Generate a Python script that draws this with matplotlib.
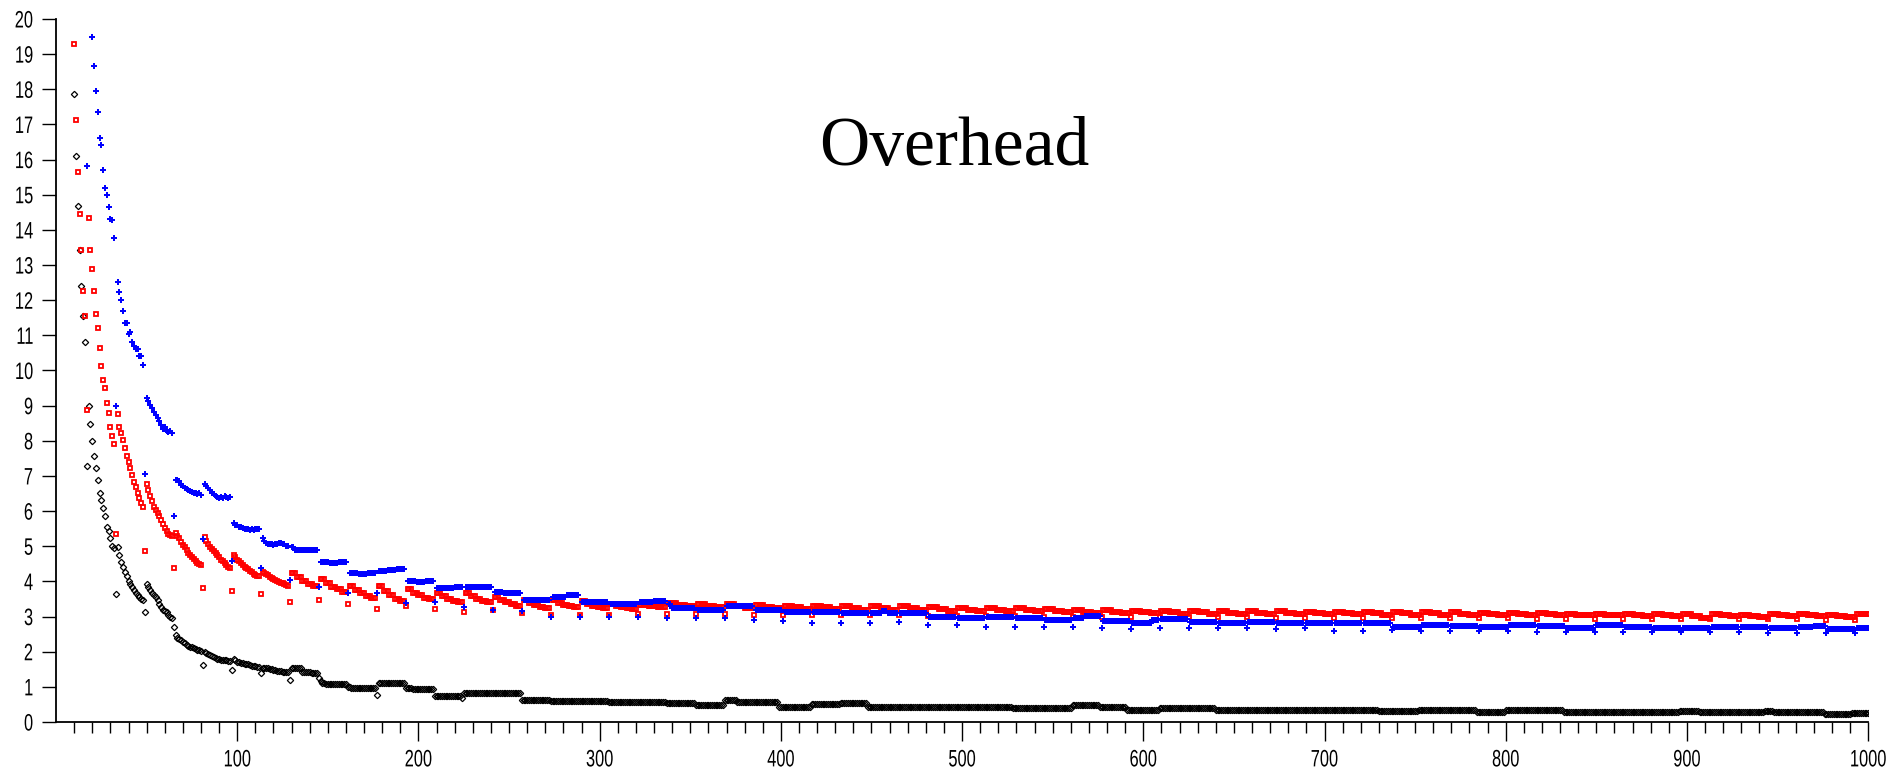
import numpy as np
import matplotlib
matplotlib.use("Agg")
import matplotlib.pyplot as plt
from matplotlib import patheffects
from matplotlib.ticker import FixedLocator
from matplotlib.transforms import Affine2D

nan = float("nan")

# values, one per integer x in the early part,
# then (value, count) runs where the series turns flat
red_x0 = 10
red_early = [
    19.30, 17.13, 15.65, 14.45, 13.43, 12.27, 11.55,
    8.88,
    14.33, 13.43, 12.90, 12.27, 11.60, 11.20, 10.63, 10.13, 9.73, 9.49, 9.08, 8.80, 8.40, 8.14, 7.91,
    5.34,
    8.75, 8.40, 8.21, 8.02, 7.79, 7.57, 7.41, 7.22, 7.03, 6.82, 6.69, 6.51, 6.36, 6.24, 6.13,
    4.87,
    6.77, 6.60, 6.42, 6.28, 6.13, 6.02, 5.94, 5.85, 5.74, 5.62, 5.52, 5.43, 5.36, 5.31, 5.28,
    4.37,
    5.38, 5.30, 5.22, 5.12, 5.04, 4.98, 4.90, 4.82, 4.76, 4.70, 4.64, 4.57, 4.52, 4.49, 4.47,
    3.80,
    5.25, 5.15, 5.05, 4.98, 4.92, 4.86, 4.80, 4.74, 4.68, 4.62, 4.57, 4.52, 4.47, 4.42, 4.38,
    3.74,
    4.75, 4.68, 4.62, 4.57, 4.52, 4.47, 4.42, 4.38, 4.34, 4.30, 4.26, 4.22, 4.19, 4.16, 4.14,
    3.63,
    4.28, 4.24, 4.20, 4.17, 4.13, 4.10, 4.07, 4.04, 4.01, 3.98, 3.96, 3.94, 3.92, 3.90, 3.88,
]
red_runs = [
    (3.42, 1), (4.24, 3), (4.12, 3), (4.01, 3), (3.93, 3), (3.87, 3),
    (3.47, 1), (4.07, 3), (3.95, 3), (3.85, 3), (3.77, 3), (3.71, 3),
    (3.36, 1), (3.87, 3), (3.76, 3), (3.66, 3), (3.58, 3), (3.53, 3),
    (3.21, 1), (3.86, 3), (3.72, 3), (3.60, 3), (3.50, 3), (3.43, 3),
    (3.30, 1), (3.78, 3), (3.68, 3), (3.60, 3), (3.54, 3), (3.49, 3),
    (3.21, 1), (3.66, 3), (3.58, 3), (3.50, 3), (3.45, 3), (3.41, 3),
    (3.12, 1), (3.66, 3), (3.58, 3), (3.50, 3), (3.45, 3), (3.41, 3),
    (3.19, 1), (3.56, 3), (3.48, 3), (3.41, 3), (3.35, 3), (3.31, 3),
    (3.10, 1), (3.46, 3), (3.39, 3), (3.33, 3), (3.28, 3), (3.24, 3),
    (3.05, 1), (3.46, 3), (3.39, 3), (3.33, 3), (3.29, 3), (3.26, 3),
    (3.05, 1), (3.43, 3), (3.37, 3), (3.31, 3), (3.27, 3), (3.24, 3),
    (3.05, 1), (3.35, 3), (3.31, 3), (3.27, 3), (3.24, 3), (3.21, 3),
    (3.08, 1), (3.33, 5), (3.30, 5), (3.26, 5),
    (3.08, 1), (3.38, 5), (3.34, 5), (3.29, 5),
    (3.06, 1), (3.36, 5), (3.31, 5), (3.26, 5),
    (3.06, 1), (3.35, 5), (3.30, 5), (3.25, 5),
    (3.05, 1), (3.33, 5), (3.28, 5), (3.23, 5),
    (3.04, 1), (3.31, 5), (3.26, 5), (3.21, 5),
    (3.04, 1), (3.31, 5), (3.26, 5), (3.21, 5),
    (3.04, 1), (3.30, 5), (3.25, 5), (3.20, 5),
    (3.03, 1), (3.29, 5), (3.24, 5), (3.19, 5),
    (3.03, 1), (3.30, 5), (3.24, 5), (3.19, 5),
    (3.02, 1), (3.26, 5), (3.21, 5), (3.17, 5),
    (3.02, 1), (3.23, 5), (3.19, 5), (3.15, 5),
    (3.02, 1), (3.25, 5), (3.20, 5), (3.15, 5),
    (3.01, 1), (3.25, 5), (3.20, 5), (3.15, 5),
    (3.00, 1), (3.22, 5), (3.17, 5), (3.13, 5),
    (3.00, 1), (3.19, 5), (3.14, 5), (3.10, 5),
    (3.00, 1), (3.18, 5), (3.13, 5), (3.09, 5),
    (2.99, 1), (3.17, 5), (3.13, 5), (3.09, 5),
    (2.99, 1), (3.17, 5), (3.12, 5), (3.08, 5),
    (2.98, 1), (3.16, 5), (3.12, 5), (3.08, 5),
    (2.98, 1), (3.16, 5), (3.11, 5), (3.07, 5),
    (2.98, 1), (3.15, 5), (3.11, 5), (3.07, 5),
    (2.97, 1), (3.15, 5), (3.11, 5), (3.07, 5),
    (2.97, 1), (3.14, 5), (3.10, 5), (3.06, 5),
    (2.97, 1), (3.14, 5), (3.10, 5), (3.06, 5),
    (2.96, 1), (3.13, 5), (3.09, 5), (3.05, 5),
    (2.96, 1), (3.13, 5), (3.09, 5), (3.05, 5),
    (2.95, 1), (3.13, 5), (3.09, 5), (3.05, 5),
    (2.95, 1), (3.13, 5), (3.08, 5), (3.04, 5),
    (2.95, 1), (3.09, 5), (3.06, 5), (3.03, 5),
    (2.95, 1), (3.11, 5), (3.07, 5), (3.04, 5),
    (2.94, 1), (3.11, 5), (3.08, 5), (3.05, 5),
    (2.94, 1), (3.08, 5), (3.05, 5), (3.03, 5),
    (2.94, 1), (3.08, 5), (3.05, 5), (3.03, 5),
    (2.93, 1), (3.07, 5), (3.04, 5), (3.02, 5),
    (2.93, 1), (3.07, 5), (3.04, 5), (3.02, 5),
    (2.93, 1), (3.07, 5), (3.01, 5), (2.97, 5),
    (2.92, 1), (3.08, 5), (3.05, 5), (3.02, 5),
    (2.92, 1), (3.04, 5), (3.01, 5), (2.99, 5),
    (2.92, 1), (3.08, 5), (3.05, 5), (3.02, 5),
    (2.92, 1), (3.06, 5), (3.03, 5), (3.01, 5),
    (2.91, 1), (3.04, 5), (3.01, 5), (2.99, 5),
    (2.91, 1), (3.07, 7),
]

blue_x0 = 17
blue_early = [
    15.83, nan, nan,
    19.50, 18.66, 17.96, 17.35, 16.60, 16.40, 15.70, 15.20, 15.00, 14.66, 14.30, 14.27, 13.76,
    8.99,
    12.53, 12.22, 12.00, 11.70, 11.35, 11.35, 11.05, 11.10, 10.80, 10.70, 10.60, 10.60, 10.40, 10.40, 10.16,
    7.05,
    9.23, 9.12, 9.02, 8.92, 8.83, 8.73, 8.64, 8.55, 8.45, 8.33, 8.40, 8.28, 8.25, 8.28, 8.22,
    5.86,
    6.88, 6.88, 6.85, 6.75, 6.70, 6.65, 6.62, 6.60, 6.57, 6.55, 6.52, 6.50, 6.48, 6.50, 6.46,
    5.20,
    6.78, 6.72, 6.65, 6.60, 6.52, 6.48, 6.42, 6.40, 6.38, 6.40, 6.36, 6.42, 6.40, 6.38, 6.41,
    4.58,
    5.65, 5.60, 5.60, 5.55, 5.55, 5.52, 5.50, 5.48, 5.50, 5.47, 5.50, 5.47, 5.50, 5.48, 5.50,
    4.37,
    5.22, 5.15, 5.10, 5.06, 5.05, 5.05, 5.03, 5.05, 5.05, 5.08, 5.10, 5.05, 5.05, 5.02, 5.00,
]
blue_runs = [
    (4.04, 1), (4.97, 2), (4.90, 13),
    (3.85, 1), (4.56, 5), (4.52, 5), (4.55, 5),
    (3.68, 1), (4.25, 5), (4.22, 5), (4.24, 5),
    (3.68, 1), (4.30, 5), (4.33, 5), (4.35, 5),
    (3.38, 1), (4.00, 5), (3.98, 5), (4.02, 5),
    (3.42, 1), (3.80, 10), (3.85, 5),
    (3.26, 1), (3.85, 15),
    (3.19, 1), (3.70, 5), (3.68, 10),
    (3.16, 1), (3.47, 15),
    (3.00, 1), (3.55, 8), (3.62, 7),
    (3.00, 1), (3.40, 15),
    (3.00, 1), (3.36, 15),
    (3.00, 1), (3.40, 8), (3.45, 7),
    (2.95, 1), (3.35, 2), (3.24, 13),
    (2.95, 1), (3.19, 15),
    (2.95, 1), (3.30, 15),
    (2.90, 1), (3.19, 15),
    (2.87, 1), (3.14, 15),
    (2.83, 1), (3.12, 15),
    (2.83, 1), (3.11, 15),
    (2.83, 1), (3.09, 6), (3.15, 3), (3.09, 6),
    (2.85, 1), (3.11, 15),
    (2.76, 1), (3.00, 15),
    (2.76, 1), (2.95, 15),
    (2.71, 1), (2.98, 15),
    (2.71, 1), (2.95, 15),
    (2.71, 1), (2.90, 15),
    (2.71, 1), (2.97, 6), (3.02, 9),
    (2.66, 1), (2.88, 15),
    (2.64, 1), (2.83, 11), (2.90, 4),
    (2.66, 1), (2.92, 15),
    (2.67, 1), (2.84, 15),
    (2.67, 1), (2.81, 15),
    (2.66, 1), (2.84, 15),
    (2.64, 1), (2.83, 15),
    (2.66, 1), (2.83, 15),
    (2.60, 1), (2.81, 15),
    (2.60, 1), (2.83, 15),
    (2.62, 1), (2.71, 15),
    (2.60, 1), (2.77, 15),
    (2.58, 1), (2.72, 15),
    (2.58, 1), (2.71, 15),
    (2.58, 1), (2.76, 15),
    (2.57, 1), (2.74, 15),
    (2.57, 1), (2.67, 15),
    (2.56, 1), (2.76, 15),
    (2.56, 1), (2.70, 15),
    (2.55, 1), (2.68, 15),
    (2.55, 1), (2.66, 15),
    (2.55, 1), (2.71, 15),
    (2.55, 1), (2.69, 15),
    (2.54, 1), (2.67, 15),
    (2.54, 1), (2.71, 8), (2.74, 7),
    (2.53, 1), (2.64, 15),
    (2.53, 1), (2.66, 7),
]

black_x0 = 10
black_early = [
    17.87, 16.11, 14.68, 13.43, 12.40, 11.55, 10.82,
    7.28,
    8.99, 8.47, 8.00, 7.57, 7.22, 6.88, 6.52, 6.32, 6.08, 5.86, 5.56, 5.44, 5.23, 5.02, 4.95,
    3.63,
    4.99, 4.75, 4.56, 4.42, 4.27, 4.14, 4.02, 3.92, 3.83, 3.75, 3.68, 3.61, 3.55, 3.50, 3.46,
    3.12,
    3.93, 3.83, 3.75, 3.68, 3.61, 3.55, 3.47, 3.35, 3.28, 3.20, 3.17, 3.12, 3.05, 2.98, 2.95,
    2.71,
    2.47, 2.40, 2.36, 2.32, 2.28, 2.24, 2.20, 2.17, 2.14, 2.12, 2.10, 2.07, 2.06, 2.04, 2.02,
    1.62,
    2.00, 1.96, 1.92, 1.90, 1.87, 1.85, 1.83, 1.80, 1.78, 1.77, 1.76, 1.76, 1.75, 1.74, 1.74,
    1.48,
    1.78, 1.75, 1.72, 1.70, 1.68, 1.67, 1.66, 1.65, 1.64, 1.62, 1.60, 1.59, 1.58, 1.57, 1.56,
    1.38,
    1.55, 1.55, 1.54, 1.53, 1.52, 1.50, 1.48, 1.47, 1.46, 1.45, 1.44, 1.43, 1.43, 1.42, 1.42,
]
black_runs = [
    (1.19, 1), (1.53, 6), (1.43, 5), (1.40, 4),
    (1.25, 1), (1.18, 1), (1.12, 2), (1.08, 12),
    (1.00, 2), (0.96, 14),
    (0.77, 1), (1.12, 15),
    (0.97, 4), (0.95, 12),
    (0.75, 15), (0.67, 1),
    (0.82, 16), (0.83, 16), (0.63, 16),
    (0.61, 32), (0.58, 32),
    (0.55, 16), (0.48, 16), (0.62, 7), (0.57, 23), (0.44, 18), (0.50, 16),
    (0.54, 15), (0.44, 80), (0.39, 26),
    (0.39, 7), (0.47, 15), (0.42, 15), (0.33, 18), (0.40, 31), (0.33, 15),
    (0.34, 75), (0.30, 22), (0.35, 32),
    (0.27, 16), (0.35, 32), (0.27, 31),
    (0.27, 33), (0.32, 11), (0.27, 36), (0.32, 5), (0.27, 28), (0.22, 15), (0.25, 10),
]

x_major = list(range(100, 1001, 100))
x_minor = [v for v in range(10, 1000, 10) if v % 100]
y_ticks = list(range(0, 21))


def expand(x0, early, runs):
    vals = list(early)
    for v, n in runs:
        vals += [v] * n
    x = np.arange(x0, x0 + len(vals))
    return x, np.array(vals, dtype=float)


class TallText(patheffects.AbstractPathEffect):
    # the chart's tick font is tall and narrow: stretch glyphs vertically
    def __init__(self, sy):
        super().__init__()
        self.sy = sy

    def draw_path(self, renderer, gc, tpath, affine, rgbFace=None):
        ext = tpath.get_extents()
        cy = (ext.y0 + ext.y1) / 2
        t = Affine2D().translate(0, -cy).scale(1, self.sy).translate(0, cy) + affine
        renderer.draw_path(gc, tpath, t, rgbFace)


fig = plt.figure(figsize=(18.87, 7.76), dpi=100)
ax = fig.add_axes([0.0297, 0.0696, 0.9603, 0.906])

bx, by = expand(black_x0, black_early, black_runs)
rx, ry = expand(red_x0, red_early, red_runs)
ux, uy = expand(blue_x0, blue_early, blue_runs)

ax.plot(bx, by, linestyle='none', marker='D', markersize=3.2,
        markerfacecolor='none', markeredgecolor='black', markeredgewidth=0.9)
ax.plot(rx, ry, linestyle='none', marker='s', markersize=3.0,
        markerfacecolor='none', markeredgecolor='#ff0000', markeredgewidth=1.3)
ax.plot(ux, uy, linestyle='none', marker='P', markersize=4.0,
        color='#0000ff', markeredgewidth=0)

ax.set_xlim(0, 1000)
ax.set_ylim(0, 20)
for s in ['top', 'right']:
    ax.spines[s].set_visible(False)
for s in ['left', 'bottom']:
    ax.spines[s].set_linewidth(1.3)

ax.xaxis.set_major_locator(FixedLocator(x_major))
ax.xaxis.set_minor_locator(FixedLocator(x_minor))
ax.set_yticks(y_ticks)

ax.tick_params(axis='x', which='major', length=14, width=1.0, pad=7.5, labelsize=11.8)
ax.tick_params(axis='x', which='minor', length=8, width=1.0)
ax.tick_params(axis='y', which='major', length=10, width=1.0, pad=6.5, labelsize=11.8)
for lab in ax.get_xticklabels() + ax.get_yticklabels():
    lab.set_family(['Liberation Sans', 'DejaVu Sans'])
    lab.set_path_effects([TallText(1.45)])

fig.text(0.5056, 0.7874, 'Overhead', ha='center', va='baseline',
         fontsize=50, family=['Liberation Serif', 'DejaVu Serif'])

fig.savefig('out.png', dpi=100)
